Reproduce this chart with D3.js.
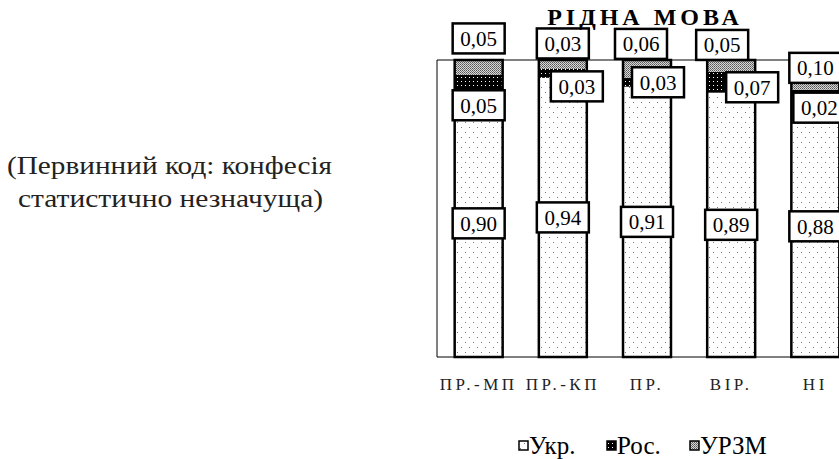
<!DOCTYPE html>
<html>
<head>
<meta charset="utf-8">
<script src="https://cdn.jsdelivr.net/npm/d3@7"></script>
<style>
  body { margin: 0; background: #fff; }
  svg { display: block; }
</style>
</head>
<body>
<svg id="chart" width="839" height="459" font-family="Liberation Serif"></svg>
<script>
var categories = [ "ПР.-МП", "ПР.-КП", "ПР.", "ВІР.", "НІ" ];
var series_names = [ "Укр.", "Рос.", "УРЗМ" ];
var ukr = [ 0.90, 0.94, 0.91, 0.89, 0.88 ];
var ros = [ 0.05, 0.03, 0.03, 0.07, 0.02 ];
var urzm = [ 0.05, 0.03, 0.06, 0.05, 0.10 ];
var note_lines = [ "(Первинний код: конфесія", "статистично незначуща)" ];

// label nudges (px) for the hand-placed boxes of the original, [dx, dy] from segment centre
var ros_nudge = [ [ 0, 23 ], [ 14, 13 ], [ 11, 0 ], [ 21, 5 ], [ 4, 15 ] ];
var urzm_nudge = [ [ 0, -29 ], [ 0, -21 ], [ -6, -25 ], [ -9, -21 ], [ 0, -7 ] ];

var FONT = "Liberation Serif";
var svg = d3.select( "#chart" );
var defs = svg.append( "defs" );

// Укр. : white with sparse grey dots
var p1 = defs.append( "pattern" ).attr( "id", "pat-ukr" )
  .attr( "patternUnits", "userSpaceOnUse" ).attr( "width", 8 ).attr( "height", 10 );
p1.append( "rect" ).attr( "width", 8 ).attr( "height", 10 ).attr( "fill", "#fff" );
p1.append( "rect" ).attr( "x", 1 ).attr( "y", 2 ).attr( "width", 1 ).attr( "height", 1 ).attr( "fill", "#777" );
p1.append( "rect" ).attr( "x", 5 ).attr( "y", 7 ).attr( "width", 1 ).attr( "height", 1 ).attr( "fill", "#777" );

// Рос. : black with white dots
var p2 = defs.append( "pattern" ).attr( "id", "pat-ros" )
  .attr( "patternUnits", "userSpaceOnUse" ).attr( "width", 4 ).attr( "height", 4 );
p2.append( "rect" ).attr( "width", 4 ).attr( "height", 4 ).attr( "fill", "#000" );
p2.append( "rect" ).attr( "x", 1 ).attr( "y", 1 ).attr( "width", 1 ).attr( "height", 1 ).attr( "fill", "#fff" );

// УРЗМ : dense grey stipple
var p3 = defs.append( "pattern" ).attr( "id", "pat-urzm" )
  .attr( "patternUnits", "userSpaceOnUse" ).attr( "width", 2 ).attr( "height", 2 );
p3.append( "rect" ).attr( "width", 2 ).attr( "height", 2 ).attr( "fill", "#d8d8d8" );
p3.append( "rect" ).attr( "width", 1 ).attr( "height", 1 ).attr( "fill", "#555" );
p3.append( "rect" ).attr( "x", 1 ).attr( "y", 1 ).attr( "width", 1 ).attr( "height", 1 ).attr( "fill", "#777" );

var fills = [ "url(#pat-ukr)", "url(#pat-ros)", "url(#pat-urzm)" ];

var MARGIN = { left: 437, top: 60, bottom: 357 };

var x = d3.scaleBand()
  .domain( categories )
  .range( [ MARGIN.left, MARGIN.left + 84 * categories.length ] )
  .paddingInner( 0.43 )
  .paddingOuter( 0.21 );

var y = d3.scaleLinear()
  .domain( [ 0, 1 ] )
  .range( [ MARGIN.bottom, MARGIN.top ] )
  .clamp( true );

// side note
var note_x = [ 7, 18 ], note_y = [ 174, 207 ], note_w = [ 325, 305 ];
svg.append( "g" ).selectAll( "text" )
  .data( note_lines )
  .enter()
  .append( "text" )
  .attr( "x", function( d, i ){ return note_x[ i ]; } )
  .attr( "y", function( d, i ){ return note_y[ i ]; } )
  .attr( "textLength", function( d, i ){ return note_w[ i ]; } )
  .attr( "lengthAdjust", "spacingAndGlyphs" )
  .attr( "font-family", FONT )
  .attr( "font-size", 26 )
  .attr( "fill", "#222" )
  .text( function( d ){ return d; } );

// frame
svg.append( "path" )
  .attr( "d", "M" + 900 + "," + MARGIN.top + "H" + MARGIN.left + "V" + MARGIN.bottom + "H" + 900 )
  .attr( "fill", "none" )
  .attr( "stroke", "#000" )
  .attr( "stroke-width", 1 );

// stacked data
var rows = categories.map( function( c, i ){
  return { cat: c, "Укр.": ukr[ i ], "Рос.": ros[ i ], "УРЗМ": urzm[ i ] };
} );
var stack = d3.stack().keys( series_names )( rows );

stack.forEach( function( layer, k ){
  svg.append( "g" ).selectAll( "rect" )
    .data( layer )
    .enter()
    .append( "rect" )
    .attr( "x", function( d ){ return x( d.data.cat ); } )
    .attr( "y", function( d ){ return y( d[ 1 ] ); } )
    .attr( "width", x.bandwidth() )
    .attr( "height", function( d ){ return y( d[ 0 ] ) - y( d[ 1 ] ); } )
    .attr( "fill", fills[ k ] );
} );

// bar outlines
svg.append( "g" ).selectAll( "rect" )
  .data( rows )
  .enter()
  .append( "rect" )
  .attr( "x", function( d ){ return x( d.cat ); } )
  .attr( "y", function( d, i ){ return y( stack[ 2 ][ i ][ 1 ] ); } )
  .attr( "width", x.bandwidth() )
  .attr( "height", function( d, i ){ return y( 0 ) - y( stack[ 2 ][ i ][ 1 ] ); } )
  .attr( "fill", "none" )
  .attr( "stroke", "#000" )
  .attr( "stroke-width", 2.5 );

// value labels
var fmt = function( v ){ return d3.format( ".2f" )( v ).replace( ".", "," ); };
var nudges = [ null, ros_nudge, urzm_nudge ];
var raw = [ ukr, ros, urzm ];

stack.forEach( function( layer, k ){
  layer.forEach( function( d, i ){
    var cx = x( d.data.cat ) + x.bandwidth() / 2;
    var cy = ( y( d[ 0 ] ) + y( d[ 1 ] ) ) / 2;
    if( nudges[ k ] ){
      cx += nudges[ k ][ i ][ 0 ];
      cy += nudges[ k ][ i ][ 1 ];
    }
    var g = svg.append( "g" ).attr( "transform", "translate(" + cx + "," + cy + ")" );
    g.append( "rect" )
      .attr( "x", -26 ).attr( "y", -15 )
      .attr( "width", 52 ).attr( "height", 30 )
      .attr( "fill", "#fff" )
      .attr( "stroke", "#000" )
      .attr( "stroke-width", 2.5 );
    g.append( "text" )
      .attr( "text-anchor", "middle" )
      .attr( "dy", "0.35em" )
      .attr( "font-family", FONT )
      .attr( "font-size", 21 )
      .attr( "fill", "#000" )
      .text( fmt( raw[ k ][ i ] ) );
  } );
} );

// title
svg.append( "text" )
  .attr( "x", 645 )
  .attr( "y", 25 )
  .attr( "text-anchor", "middle" )
  .attr( "font-family", FONT )
  .attr( "font-size", 24 )
  .attr( "font-weight", "bold" )
  .attr( "letter-spacing", 4 )
  .text( "РІДНА МОВА" );

// category axis labels
var xAxis = d3.axisBottom( x ).tickSize( 0 ).tickPadding( 0 );
var ax = svg.append( "g" )
  .attr( "transform", "translate(0," + 378 + ")" )
  .call( xAxis );
ax.attr( "font-family", FONT );
ax.select( ".domain" ).remove();
ax.selectAll( "text" )
  .attr( "font-family", FONT )
  .attr( "font-size", 17 )
  .attr( "letter-spacing", 3.5 )
  .attr( "fill", "#222" );

// legend
var legend_x = [ 519, 607, 690 ];
var lg = svg.append( "g" ).selectAll( "g" )
  .data( series_names )
  .enter()
  .append( "g" )
  .attr( "transform", function( d, i ){ return "translate(" + legend_x[ i ] + ",446)"; } );
lg.append( "rect" )
  .attr( "x", 0 ).attr( "y", -5 )
  .attr( "width", 9 ).attr( "height", 9 )
  .attr( "fill", function( d, i ){ return fills[ i ]; } )
  .attr( "stroke", "#000" )
  .attr( "stroke-width", 1.5 );
lg.append( "text" )
  .attr( "x", 10 )
  .attr( "y", 8 )
  .attr( "font-family", FONT )
  .attr( "font-size", 25 )
  .attr( "fill", "#000" )
  .text( function( d ){ return d; } );
</script>
</body>
</html>
